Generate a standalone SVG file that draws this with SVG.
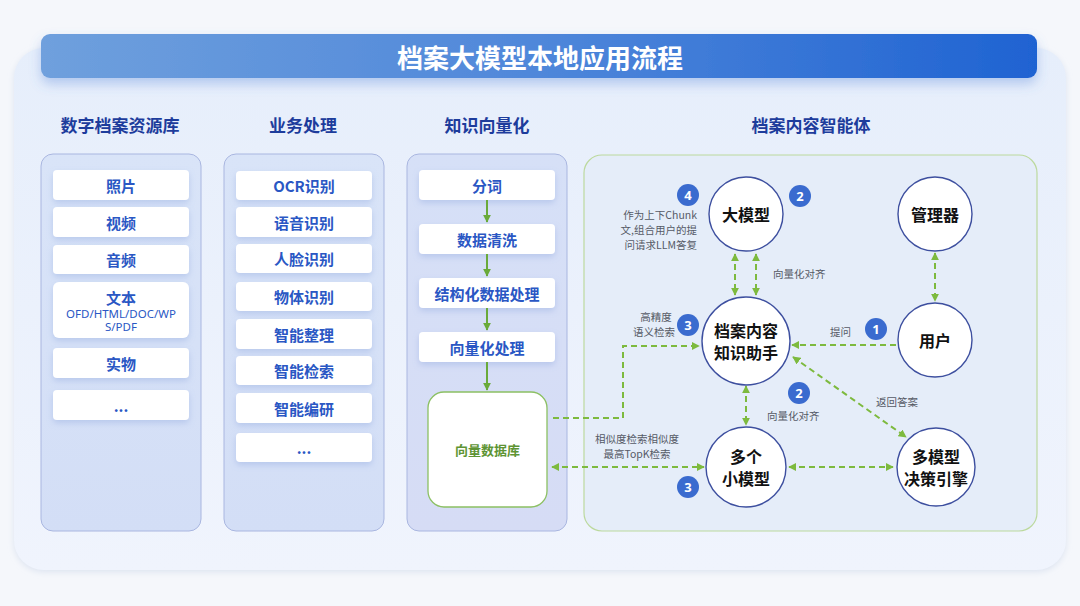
<svg xmlns="http://www.w3.org/2000/svg" width="1080" height="606" viewBox="0 0 1080 606">
<defs>
  <linearGradient id="titleGrad" x1="0" y1="0" x2="1" y2="0">
    <stop offset="0" stop-color="#6fa0dd"/>
    <stop offset="0.5" stop-color="#4f87da"/>
    <stop offset="1" stop-color="#1f63d2"/>
  </linearGradient>
  <linearGradient id="panelGrad" x1="0" y1="0" x2="0" y2="1">
    <stop offset="0" stop-color="#e6eefb"/>
    <stop offset="1" stop-color="#f0f4fd"/>
  </linearGradient>
  <linearGradient id="colGrad" x1="0" y1="0" x2="0" y2="1">
    <stop offset="0" stop-color="#d9e4f8"/>
    <stop offset="1" stop-color="#d3def6"/>
  </linearGradient>
  <linearGradient id="col3Grad" x1="0" y1="0" x2="0" y2="1">
    <stop offset="0" stop-color="#d6e0f7"/>
    <stop offset="1" stop-color="#d6dcf5"/>
  </linearGradient>
  <filter id="shadow" x="-20%" y="-40%" width="140%" height="200%">
    <feDropShadow dx="0" dy="3" stdDeviation="3" flood-color="#7f9bd8" flood-opacity="0.35"/>
  </filter>
  <filter id="titleShadow" x="-5%" y="-50%" width="110%" height="250%">
    <feDropShadow dx="0" dy="6" stdDeviation="6" flood-color="#4f7fd6" flood-opacity="0.35"/>
  </filter>
  <filter id="panelShadow" x="-5%" y="-5%" width="110%" height="115%">
    <feDropShadow dx="0" dy="2" stdDeviation="3" flood-color="#b8c6e0" flood-opacity="0.4"/>
  </filter>
  <marker id="ga" viewBox="0 0 10 10" refX="9" refY="5" markerWidth="4" markerHeight="4" orient="auto-start-reverse" markerUnits="strokeWidth">
    <path d="M0,0 L10,5 L0,10 z" fill="#7dba3e"/>
  </marker>
  <marker id="gs" viewBox="0 0 10 10" refX="9" refY="5" markerWidth="4" markerHeight="4" orient="auto" markerUnits="strokeWidth">
    <path d="M0,0 L10,5 L0,10 z" fill="#6aaa3a"/>
  </marker>
  <style>
    .cjk { font-family: "Noto Sans CJK SC", "Noto Sans", sans-serif; }
    .head { font-family: "Noto Sans CJK SC", sans-serif; font-size: 17px; font-weight: 700; fill: #1d3c9c; text-anchor: middle; dominant-baseline: central; }
    .col { stroke: #a9b6e0; stroke-width: 1; }
    .item { fill: #ffffff; filter: url(#shadow); }
    .itxt { font-family: "Noto Sans CJK SC", "Noto Sans", sans-serif; font-size: 15px; font-weight: 700; fill: #2a57c4; text-anchor: middle; dominant-baseline: central; }
    .stxt { font-family: "Noto Sans", "Noto Sans CJK SC", sans-serif; font-size: 11.5px; fill: #2a57c4; text-anchor: middle; dominant-baseline: central; }
    .node { fill: #ffffff; stroke: #3d4f9f; stroke-width: 1.4; }
    .ntxt { font-family: "Noto Sans CJK SC", sans-serif; font-size: 16px; font-weight: 700; fill: #111111; text-anchor: middle; dominant-baseline: central; }
    .lbl { font-family: "Noto Sans CJK SC", "Noto Sans", sans-serif; font-size: 10.5px; fill: #555a66; dominant-baseline: central; }
    .badge { fill: #3a6bcf; }
    .btxt { font-family: "Noto Sans", sans-serif; font-size: 13px; font-weight: 700; fill: #ffffff; text-anchor: middle; dominant-baseline: central; }
    .dash { fill: none; stroke: #7dba3e; stroke-width: 2; stroke-dasharray: 6 4; }
    .solid { fill: none; stroke: #6aaa3a; stroke-width: 2; }
  </style>
</defs>

<rect x="0" y="0" width="1080" height="606" fill="#f5f7fb"/>

<g id="panel">
  <rect x="14" y="48" width="1052" height="522" rx="30" fill="url(#panelGrad)" filter="url(#panelShadow)"/>
</g>

<g id="title">
  <rect x="41" y="34" width="996" height="44" rx="9" fill="url(#titleGrad)" filter="url(#titleShadow)"/>
  <text x="540" y="56" class="cjk" font-size="26" font-weight="700" fill="#ffffff" text-anchor="middle" dominant-baseline="central">档案大模型本地应用流程</text>
</g>

<g id="headings">
  <text x="120" y="124" class="head">数字档案资源库</text>
  <text x="303" y="124" class="head">业务处理</text>
  <text x="487" y="124" class="head">知识向量化</text>
  <text x="811" y="124" class="head">档案内容智能体</text>
</g>

<g id="col-archive">
  <rect x="41" y="154" width="160" height="377" rx="12" fill="url(#colGrad)" class="col"/>
  <g id="n-photo"><rect x="53" y="170" width="136" height="30" rx="4" class="item"/><text x="121" y="185" class="itxt">照片</text></g>
  <g id="n-video"><rect x="53" y="207" width="136" height="30" rx="4" class="item"/><text x="121" y="222" class="itxt">视频</text></g>
  <g id="n-audio"><rect x="53" y="245" width="136" height="29" rx="4" class="item"/><text x="121" y="259.5" class="itxt">音频</text></g>
  <g id="n-text"><rect x="53" y="282" width="136" height="56" rx="6" class="item"/>
    <text x="121" y="297" class="itxt">文本</text>
    <text x="121" y="313" class="stxt">OFD/HTML/DOC/WP</text>
    <text x="121" y="326" class="stxt">S/PDF</text></g>
  <g id="n-object"><rect x="53" y="348" width="136" height="30" rx="4" class="item"/><text x="121" y="363" class="itxt">实物</text></g>
  <g id="n-more1"><rect x="53" y="390" width="136" height="30" rx="4" class="item"/><text x="121" y="405" class="itxt">...</text></g>
</g>

<g id="col-business">
  <rect x="224" y="154" width="160" height="377" rx="12" fill="url(#colGrad)" class="col"/>
  <g id="n-ocr"><rect x="236" y="171" width="136" height="29" rx="4" class="item"/><text x="304" y="185.5" class="itxt">OCR识别</text></g>
  <g id="n-speech"><rect x="236" y="207" width="136" height="30" rx="4" class="item"/><text x="304" y="222" class="itxt">语音识别</text></g>
  <g id="n-face"><rect x="236" y="244" width="136" height="29" rx="4" class="item"/><text x="304" y="258.5" class="itxt">人脸识别</text></g>
  <g id="n-thing"><rect x="236" y="282" width="136" height="29" rx="4" class="item"/><text x="304" y="296.5" class="itxt">物体识别</text></g>
  <g id="n-sort"><rect x="236" y="319" width="136" height="30" rx="4" class="item"/><text x="304" y="334" class="itxt">智能整理</text></g>
  <g id="n-search"><rect x="236" y="356" width="136" height="29" rx="4" class="item"/><text x="304" y="370.5" class="itxt">智能检索</text></g>
  <g id="n-edit"><rect x="236" y="393" width="136" height="30" rx="4" class="item"/><text x="304" y="408" class="itxt">智能编研</text></g>
  <g id="n-more2"><rect x="236" y="433" width="136" height="29" rx="4" class="item"/><text x="304" y="447.5" class="itxt">...</text></g>
</g>

<g id="col-vector">
  <rect x="407" y="154" width="160" height="377" rx="12" fill="url(#col3Grad)" class="col"/>
  <g id="n-token"><rect x="419" y="170" width="136" height="30" rx="4" class="item"/><text x="487" y="185" class="itxt">分词</text></g>
  <g id="n-clean"><rect x="419" y="224" width="136" height="30" rx="4" class="item"/><text x="487" y="239" class="itxt">数据清洗</text></g>
  <g id="n-struct"><rect x="419" y="278" width="136" height="30" rx="4" class="item"/><text x="487" y="293" class="itxt">结构化数据处理</text></g>
  <g id="n-vec"><rect x="419" y="332" width="136" height="30" rx="4" class="item"/><text x="487" y="347" class="itxt">向量化处理</text></g>
  <g id="n-vdb"><rect x="428" y="392" width="119" height="115" rx="16" fill="#ffffff" stroke="#8cc063" stroke-width="1.3"/>
    <text x="487.5" y="449" class="cjk" font-size="13" font-weight="700" fill="#5e9434" text-anchor="middle" dominant-baseline="central">向量数据库</text></g>
</g>

<g id="col-agent">
  <rect x="584" y="155" width="453" height="376" rx="18" fill="#e5edf9" stroke="#bcd99e" stroke-width="1.2"/>
</g>

<g id="connectors">
  <path class="solid" d="M487,200 V222" marker-end="url(#gs)"/>
  <path class="solid" d="M487,254 V276" marker-end="url(#gs)"/>
  <path class="solid" d="M487,308 V330" marker-end="url(#gs)"/>
  <path class="solid" d="M487,362 V390" marker-end="url(#gs)"/>

  <path class="dash" d="M735,254 V295" marker-start="url(#ga)" marker-end="url(#ga)"/>
  <path class="dash" d="M756,254 V295" marker-start="url(#ga)" marker-end="url(#ga)"/>
  <path class="dash" d="M935,253 V301" marker-start="url(#ga)" marker-end="url(#ga)"/>
  <path class="dash" d="M896,345 H792" marker-end="url(#ga)"/>
  <path class="dash" d="M793,357 L906,437" marker-start="url(#ga)" marker-end="url(#ga)"/>
  <path class="dash" d="M746,386 V425" marker-start="url(#ga)" marker-end="url(#ga)"/>
  <path class="dash" d="M789,467 H893" marker-start="url(#ga)" marker-end="url(#ga)"/>
  <path class="dash" d="M552,467 H704" marker-start="url(#ga)" marker-end="url(#ga)"/>
  <path class="dash" d="M553,418 H623 V346 H699" marker-end="url(#ga)"/>
</g>

<g id="n-llm"><circle cx="746" cy="214" r="37" class="node"/><text x="746" y="214" class="ntxt">大模型</text></g>
<g id="n-manager"><circle cx="935" cy="214" r="37" class="node"/><text x="935" y="214" class="ntxt">管理器</text></g>
<g id="n-assistant"><circle cx="746" cy="341" r="44" class="node"/>
  <text class="ntxt"><tspan x="746" y="330">档案内容</tspan><tspan x="746" y="352">知识助手</tspan></text></g>
<g id="n-user"><circle cx="935" cy="340" r="37" class="node"/><text x="935" y="340" class="ntxt">用户</text></g>
<g id="n-small"><circle cx="746" cy="467" r="40" class="node"/>
  <text class="ntxt"><tspan x="746" y="456">多个</tspan><tspan x="746" y="478">小模型</tspan></text></g>
<g id="n-engine"><circle cx="936" cy="467" r="39" class="node"/>
  <text class="ntxt"><tspan x="936" y="456">多模型</tspan><tspan x="936" y="478">决策引擎</tspan></text></g>

<g id="badges">
  <circle cx="688" cy="195" r="11" class="badge"/><text x="688" y="195" class="btxt">4</text>
  <circle cx="800" cy="196" r="11" class="badge"/><text x="800" y="196" class="btxt">2</text>
  <circle cx="688" cy="325" r="11" class="badge"/><text x="688" y="325" class="btxt">3</text>
  <circle cx="876" cy="329" r="11" class="badge"/><text x="876" y="329" class="btxt">1</text>
  <circle cx="799" cy="393" r="11" class="badge"/><text x="799" y="393" class="btxt">2</text>
  <circle cx="688" cy="487" r="11" class="badge"/><text x="688" y="487" class="btxt">3</text>
</g>

<g id="labels">
  <text x="697" y="214" class="lbl" text-anchor="end">作为上下Chunk</text>
  <text x="697" y="229" class="lbl" text-anchor="end">文,组合用户的提</text>
  <text x="697" y="244" class="lbl" text-anchor="end">问请求LLM答复</text>
  <text x="773" y="273" class="lbl">向量化对齐</text>
  <text x="656" y="316.5" class="lbl" text-anchor="middle">高精度</text>
  <text x="654" y="331.5" class="lbl" text-anchor="middle">语义检索</text>
  <text x="830" y="331" class="lbl">提问</text>
  <text x="767" y="415" class="lbl">向量化对齐</text>
  <text x="876" y="401" class="lbl">返回答案</text>
  <text x="637" y="438" class="lbl" text-anchor="middle">相似度检索相似度</text>
  <text x="637" y="453" class="lbl" text-anchor="middle">最高TopK检索</text>
</g>
</svg>
